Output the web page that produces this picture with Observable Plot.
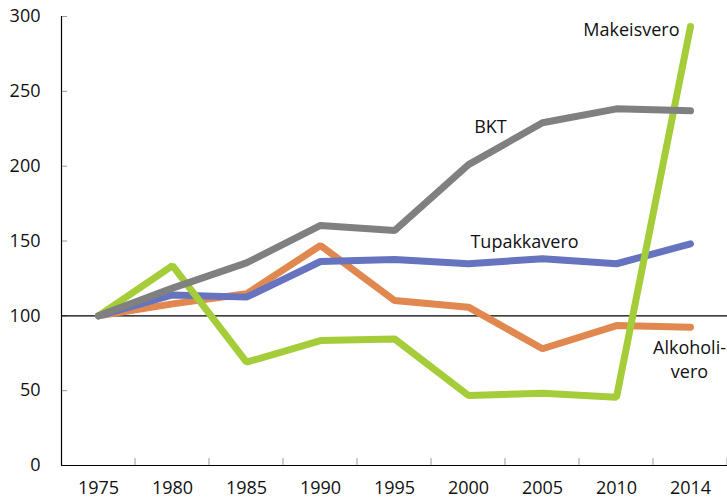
<!DOCTYPE html>
<html>
<head>
<meta charset="utf-8">
<script src="https://cdn.jsdelivr.net/npm/d3@7"></script>
<script src="https://cdn.jsdelivr.net/npm/@observablehq/plot@0.6"></script>
<style>
  html, body { margin: 0; padding: 0; background: #fff; }
  svg { font-family: "Open Sans", sans-serif; }
</style>
</head>
<body>
<div id="chart"></div>
<script>
const years = ["1975", "1980", "1985", "1990", "1995", "2000", "2005", "2010", "2014"];
const yTicks = [0, 50, 100, 150, 200, 250, 300];

const alkoholivero = [100, 108, 114.7, 147, 110.2, 105.8, 78, 93.5, 92.4];
const tupakkavero  = [100, 114, 112.5, 136.3, 137.6, 134.8, 138.1, 134.8, 148.1];
const makeisvero   = [100, 133.6, 69, 83.5, 84.6, 46.8, 48.3, 45.6, 293.3];
const bkt          = [100, 118.5, 135.4, 160.4, 157, 201, 229, 238.3, 237];

const seriesNames  = ["Alkoholivero", "Tupakkavero", "Makeisvero", "BKT"];
const seriesValues = [alkoholivero, tupakkavero, makeisvero, bkt];
const seriesColors = ["#e0884f", "#6673be", "#a4cd39", "#808080"];

const data = seriesNames.flatMap((name, s) =>
  years.map((year, i) => ({series: name, year, value: seriesValues[s][i]})));

const W = 727, H = 500, mL = 61, mR = 0, mT = 16, mB = 35;
const step = (W - mL - mR) / years.length;

const pick = (name, year) => data.filter(d => d.series === name && d.year === year);

const chart = Plot.plot({
  width: W,
  height: H,
  marginLeft: mL,
  marginRight: mR,
  marginTop: mT,
  marginBottom: mB,
  style: {fontFamily: "'Open Sans', sans-serif", fontSize: "18px", background: "#fff", overflow: "visible"},
  x: {type: "point", domain: years, padding: 0.5, align: 0.5},
  y: {domain: [0, 300]},
  color: {domain: seriesNames, range: seriesColors},
  marks: [
    Plot.axisY({ticks: yTicks, tickSize: 0, tickPadding: 21, label: null, fill: "#111", fontSize: 18}),
    Plot.axisY({ticks: yTicks, tickSize: 6, dx: 6, tickFormat: () => "", label: null, stroke: "#999"}),
    Plot.axisX({ticks: years, tickSize: 0, tickPadding: 16, label: null, fill: "#111", fontSize: 18}),
    Plot.ruleX(years, {x: d => d, y1: 0, y2: 4.6, dx: step / 2 - 0.5, stroke: "#999", strokeWidth: 1}),
    Plot.ruleY([100], {stroke: "#000", strokeWidth: 1.2}),
    Plot.line(data, {
      x: "year", y: "value", z: "series", stroke: "series",
      strokeWidth: 7, strokeLinecap: "round", strokeLinejoin: "miter"
    }),
    Plot.ruleX([0], {x: () => years[0], dx: -step / 2, y1: 0, y2: 300, stroke: "#000", strokeWidth: 1.2}),
    Plot.ruleY([0], {stroke: "#000", strokeWidth: 1.2}),
    Plot.text(pick("Makeisvero", "2014"), {x: "year", y: "value", text: d => d.series, textAnchor: "end", dx: -11, dy: 4, fill: "#111", fontSize: 18}),
    Plot.text(pick("BKT", "2000"), {x: "year", y: "value", text: d => d.series, textAnchor: "middle", dx: 22, dy: -37, fill: "#111", fontSize: 18}),
    Plot.text(pick("Tupakkavero", "2005"), {x: "year", y: "value", text: d => d.series, textAnchor: "middle", dx: -18, dy: -17, fill: "#111", fontSize: 18}),
    Plot.text(pick("Alkoholivero", "2014"), {x: "year", y: "value", text: () => "Alkoholi-\nvero", textAnchor: "middle", lineHeight: 1.33, dx: -1, dy: 31, fill: "#111", fontSize: 18})
  ]
});

document.getElementById("chart").appendChild(chart);
</script>
</body>
</html>
